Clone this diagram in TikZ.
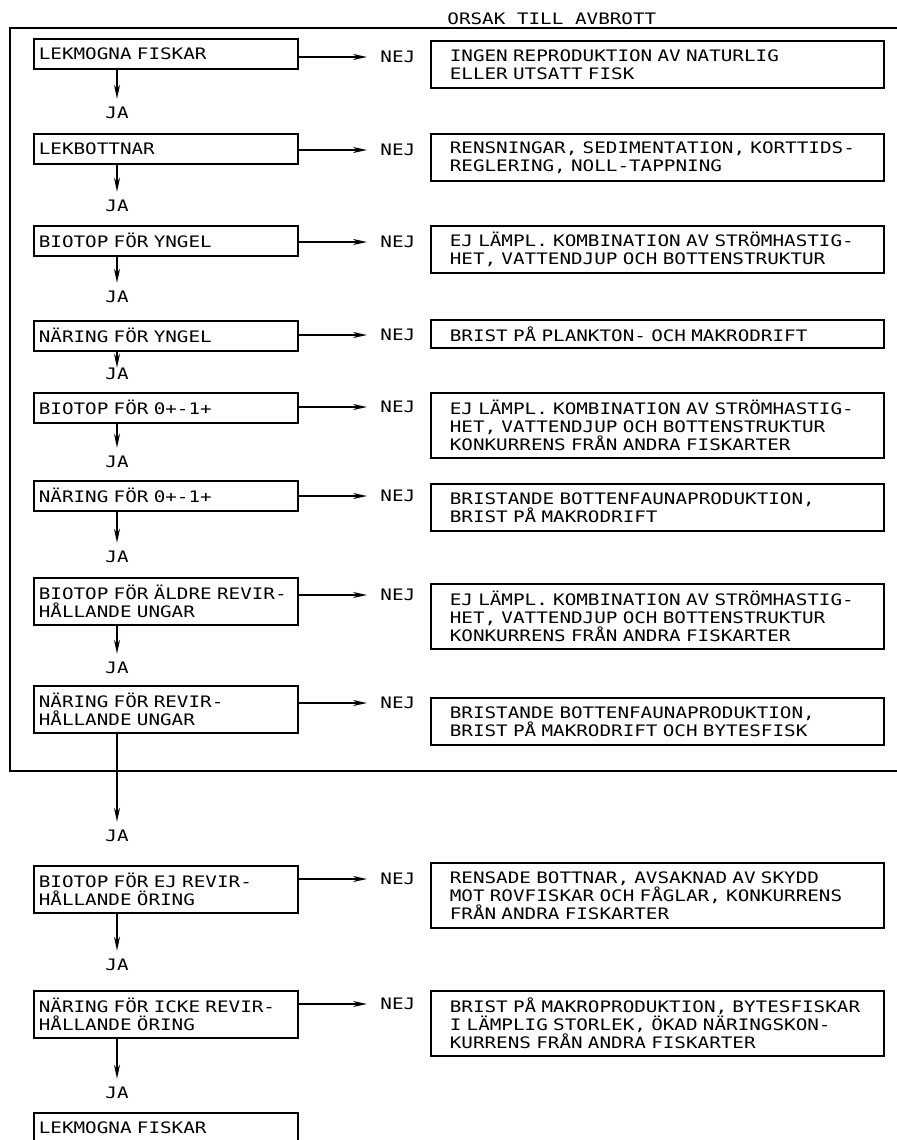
\documentclass[tikz,border=0pt]{standalone}
\usepackage{fontspec}
\newfontfamily\typefont[FakeStretch=1.22]{DejaVu Sans Mono}
\usetikzlibrary{arrows.meta,positioning}

\begin{document}
\begin{tikzpicture}[
  x=0.5pt,y=-0.5pt,
  every node/.style={font=\typefont\fontsize{7.9}{9}\selectfont},
  krav/.style={draw,line width=0.8pt,anchor=north west,align=left,
    text width=127pt,inner xsep=2.5pt,inner ysep=2pt,minimum height=15pt},
  orsak/.style={draw,line width=0.8pt,anchor=north west,align=left,
    text width=207.5pt,inner xsep=9.5pt,inner ysep=2pt,minimum height=14pt},
  rad2/.style={minimum height=23.5pt},
  rad3/.style={minimum height=32.5pt},
  svar/.style={inner sep=0pt,anchor=west},
  ja/.style={inner sep=0pt},
  arr/.style={-{Stealth[length=7pt,width=3pt]},line width=0.8pt},
  nejarr/.style={arr,shorten >=6.5pt},
  jaarr/.style={arr,shorten >=4pt}]
\useasboundingbox (0,0) rectangle (897,1140);
\clip (0,0) rectangle (897,1140);

% rubrik och ram
\node[svar] (rubrik) at (447,19) {ORSAK TILL AVBROTT};
\draw[line width=0.8pt] (897,28) -- (10,28) -- (10,771) -- (897,771);

% krav i vänsterkolumnen
\node[krav] (k1) at (33,38) {LEKMOGNA FISKAR};
\node[krav] (k2) at (33,133) {LEKBOTTNAR};
\node[krav] (k3) at (33,225) {BIOTOP FÖR YNGEL};
\node[krav] (k4) at (33,320) {NÄRING FÖR YNGEL};
\node[krav] (k5) at (33,392) {BIOTOP FÖR 0+-1+};
\node[krav] (k6) at (33,480) {NÄRING FÖR 0+-1+};
\node[krav,rad2] (k7) at (33,577) {BIOTOP FÖR ÄLDRE REVIR-\\HÅLLANDE UNGAR};
\node[krav,rad2] (k8) at (33,685) {NÄRING FÖR REVIR-\\HÅLLANDE UNGAR};
\node[krav,rad2] (k9) at (33,865) {BIOTOP FÖR EJ REVIR-\\HÅLLANDE ÖRING};
\node[krav,rad2] (k10) at (33,990) {NÄRING FÖR ICKE REVIR-\\HÅLLANDE ÖRING};
\node[krav] (k11) at (33,1112) {LEKMOGNA FISKAR};

% orsaker i högerkolumnen
\node[orsak,rad2] (o1) at (430,40) {INGEN REPRODUKTION AV NATURLIG\\ELLER UTSATT FISK};
\node[orsak,rad2] (o2) at (430,133) {RENSNINGAR, SEDIMENTATION, KORTTIDS-\\REGLERING, NOLL-TAPPNING};
\node[orsak,rad2] (o3) at (430,225) {EJ LÄMPL. KOMBINATION AV STRÖMHASTIG-\\HET, VATTENDJUP OCH BOTTENSTRUKTUR};
\node[orsak] (o4) at (430,319) {BRIST PÅ PLANKTON- OCH MAKRODRIFT};
\node[orsak,rad3] (o5) at (430,392) {EJ LÄMPL. KOMBINATION AV STRÖMHASTIG-\\HET, VATTENDJUP OCH BOTTENSTRUKTUR\\KONKURRENS FRÅN ANDRA FISKARTER};
\node[orsak,rad2] (o6) at (430,483) {BRISTANDE BOTTENFAUNAPRODUKTION,\\BRIST PÅ MAKRODRIFT};
\node[orsak,rad3] (o7) at (430,583) {EJ LÄMPL. KOMBINATION AV STRÖMHASTIG-\\HET, VATTENDJUP OCH BOTTENSTRUKTUR\\KONKURRENS FRÅN ANDRA FISKARTER};
\node[orsak,rad2] (o8) at (430,697) {BRISTANDE BOTTENFAUNAPRODUKTION,\\BRIST PÅ MAKRODRIFT OCH BYTESFISK};
\node[orsak,rad3] (o9) at (430,862) {RENSADE BOTTNAR, AVSAKNAD AV SKYDD\\MOT ROVFISKAR OCH FÅGLAR, KONKURRENS\\FRÅN ANDRA FISKARTER};
\node[orsak,rad3] (o10) at (430,990) {BRIST PÅ MAKROPRODUKTION, BYTESFISKAR\\I LÄMPLIG STORLEK, ÖKAD NÄRINGSKON-\\KURRENS FRÅN ANDRA FISKARTER};

% svar NEJ
\node[svar] (n1) at (380,57) {NEJ};
\node[svar] (n2) at (380,150) {NEJ};
\node[svar] (n3) at (380,242) {NEJ};
\node[svar] (n4) at (380,335) {NEJ};
\node[svar] (n5) at (380,407) {NEJ};
\node[svar] (n6) at (380,496) {NEJ};
\node[svar] (n7) at (380,595) {NEJ};
\node[svar] (n8) at (380,703) {NEJ};
\node[svar] (n9) at (380,879) {NEJ};
\node[svar] (n10) at (380,1004) {NEJ};

% svar JA
\node[ja] (j1) at (117,113) {JA};
\node[ja] (j2) at (117,206) {JA};
\node[ja] (j3) at (117,297) {JA};
\node[ja] (j4) at (117,374) {JA};
\node[ja] (j5) at (117,462) {JA};
\node[ja] (j6) at (117,557) {JA};
\node[ja] (j7) at (117,668) {JA};
\node[ja] (j8) at (117,836) {JA};
\node[ja] (j9) at (117,965) {JA};
\node[ja] (j10) at (117,1093) {JA};

\draw[nejarr] (k1.east |- n1) -- (n1);
\draw[nejarr] (k2.east |- n2) -- (n2);
\draw[nejarr] (k3.east |- n3) -- (n3);
\draw[nejarr] (k4.east |- n4) -- (n4);
\draw[nejarr] (k5.east |- n5) -- (n5);
\draw[nejarr] (k6.east |- n6) -- (n6);
\draw[nejarr] (k7.east |- n7) -- (n7);
\draw[nejarr] (k8.east |- n8) -- (n8);
\draw[nejarr] (k9.east |- n9) -- (n9);
\draw[nejarr] (k10.east |- n10) -- (n10);

\draw[jaarr] (k1.south -| j1) -- (j1);
\draw[jaarr] (k2.south -| j2) -- (j2);
\draw[jaarr] (k3.south -| j3) -- (j3);
\draw[arr,shorten >=0pt] (k4.south -| j4) -- (j4);
\draw[jaarr] (k5.south -| j5) -- (j5);
\draw[jaarr] (k6.south -| j6) -- (j6);
\draw[jaarr] (k7.south -| j7) -- (j7);
\draw[jaarr] (k8.south -| j8) -- (j8);
\draw[jaarr] (k9.south -| j9) -- (j9);
\draw[jaarr] (k10.south -| j10) -- (j10);
\end{tikzpicture}
\end{document}
